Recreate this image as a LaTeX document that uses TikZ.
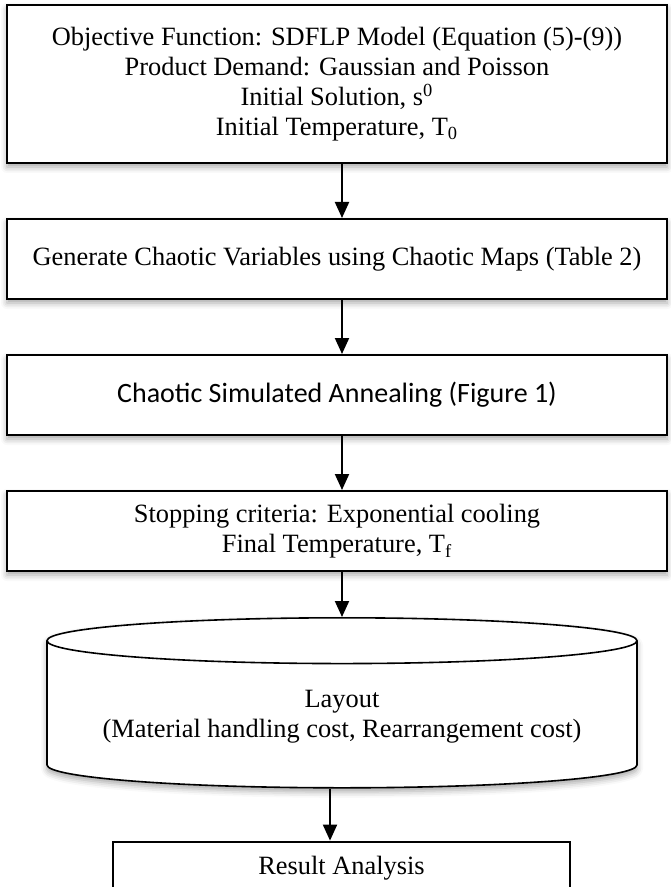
\documentclass[tikz,border=0pt]{standalone}
\usepackage{fontspec}
\setmainfont{Liberation Serif}
\newfontfamily\calibrifont{Carlito}
\usetikzlibrary{arrows.meta,positioning,shapes.geometric,shadows.blur}

\begin{document}
\begin{tikzpicture}[
  node distance=27pt,
  stepbox/.style={rectangle,draw,line width=1pt,fill=white,minimum width=330pt,minimum height=40pt,align=center,
    font=\fontsize{13.2}{15}\selectfont,
    blur shadow={shadow xshift=0pt,shadow yshift=-2pt,shadow blur radius=3pt,shadow opacity=35}},
  dbase/.style={cylinder,shape border rotate=90,aspect=0.093,draw,line width=0.8pt,fill=white,
    minimum width=295pt,minimum height=85pt,align=center,font=\fontsize{13.2}{15}\selectfont,
    blur shadow={shadow xshift=0pt,shadow yshift=-2pt,shadow blur radius=3pt,shadow opacity=35}},
  every edge/.style={draw,line width=1pt,-{Triangle[width=7pt,length=8pt]}}
]
\useasboundingbox (0,0) rectangle (335pt,-443.5pt);

% inputs of the search
\node[stepbox,minimum height=79pt] (objective) at (168.5pt,-42pt)
  {Objective Function: SDFLP Model (Equation (5)-(9))\\
   Product Demand: Gaussian and Poisson\\
   Initial Solution, s\textsuperscript{0}\\
   Initial Temperature, T\textsubscript{0}};
% main chain
\node[stepbox,below=of objective] (chaosgen) {Generate Chaotic Variables using Chaotic Maps (Table 2)};
\node[stepbox,below=of chaosgen,font=\calibrifont\fontsize{14}{16}\selectfont] (csa) {Chaotic Simulated Annealing (Figure 1)};
\node[stepbox,below=of csa] (stopping) {Stopping criteria: Exponential cooling\\Final Temperature, T\textsubscript{f}};
% output layout and its analysis
\node[dbase,below=22.5pt of stopping,xshift=2.5pt] (layout)
  {Layout\\(Material handling cost, Rearrangement cost)};
\node[stepbox,below=26pt of layout,xshift=-0.25pt,minimum width=228.5pt,minimum height=26.5pt,blur shadow={shadow opacity=0}] (result) {Result Analysis};

% flow
\draw ([xshift=2.5pt]objective.south) edge ([xshift=2.5pt]chaosgen.north);
\draw ([xshift=2.5pt]chaosgen.south) edge ([xshift=2.5pt]csa.north);
\draw ([xshift=2.5pt]csa.south) edge ([xshift=2.5pt]stopping.north);
\draw ([xshift=2.5pt]stopping.south) edge (layout.north);
\draw ([xshift=-6pt]layout.south) edge ([xshift=-5.75pt]result.north);
\end{tikzpicture}
\end{document}
